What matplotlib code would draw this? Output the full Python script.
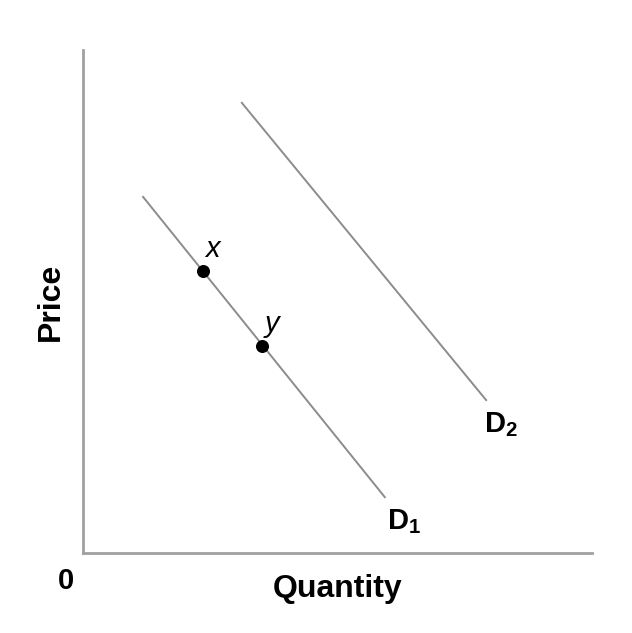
import matplotlib
matplotlib.use('Agg')
import matplotlib.pyplot as plt

# demand curves (quantity, price) endpoints
d1_q = [1.18, 5.93]
d1_p = [7.08, 1.11]
d2_q = [3.12, 7.92]
d2_p = [8.95, 3.04]

# points on D1
pt_names = ['x', 'y']
pt_q = [2.36, 3.52]
pt_p = [5.61, 4.12]

plt.rcParams['font.family'] = ['Liberation Sans', 'DejaVu Sans']
plt.rcParams['mathtext.default'] = 'regular'

fig = plt.figure(figsize=(6.32, 6.33), dpi=100)
ax = fig.add_axes([83/632, 80/633, 509/632, 503/633])
ax.set_xlim(0, 10)
ax.set_ylim(0, 10)

ax.plot(d1_q, d1_p, color='#8c8c8c', lw=1.4)
ax.plot(d2_q, d2_p, color='#8c8c8c', lw=1.4)
ax.scatter(pt_q, pt_p, s=70, color='black', zorder=3)
for n, q, p in zip(pt_names, pt_q, pt_p):
    ax.text(q + 0.05, p + 0.15, n, fontsize=21, style='italic', ha='left', va='bottom')

ax.text(d1_q[1] + 0.05, d1_p[1] - 0.2, r'D$_1$', fontsize=21, fontweight='bold', ha='left', va='top')
ax.text(d2_q[1] - 0.05, d2_p[1] - 0.2, r'D$_2$', fontsize=21, fontweight='bold', ha='left', va='top')

for s in ['top', 'right']:
    ax.spines[s].set_visible(False)
for s in ['left', 'bottom']:
    ax.spines[s].set_color('#a0a0a0')
    ax.spines[s].set_linewidth(2)
ax.set_xticks([])
ax.set_yticks([])

ax.set_xlabel('Quantity', fontsize=23, fontweight='bold', labelpad=15)
ax.set_ylabel('Price', fontsize=23, fontweight='bold', labelpad=12)
ax.text(-0.33, -0.55, '0', fontsize=21, fontweight='bold', ha='center', va='center')

fig.savefig('out.png', dpi=100)
